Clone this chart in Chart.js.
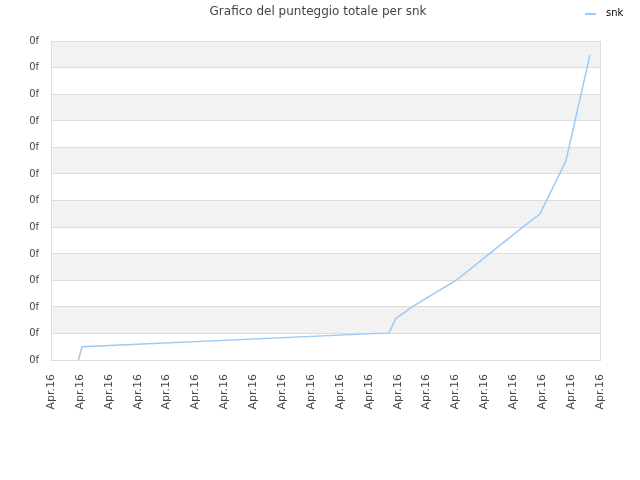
<!DOCTYPE html>
<html>
<head>
<meta charset="utf-8">
<script src="https://cdn.jsdelivr.net/npm/chart.js@4"></script>
<style>
  html, body { margin: 0; padding: 0; background: #fff; }
  #wrap { width: 640px; height: 480px; }
</style>
</head>
<body>
<div id="wrap"><canvas id="chart" width="640" height="480"></canvas></div>
<script>
  'use strict';

  var TITLE = 'Grafico del punteggio totale per snk';
  var SERIES_NAME = 'snk';

  // x tick labels (one per grid step)
  var xLabels = ['Apr.16', 'Apr.16', 'Apr.16', 'Apr.16', 'Apr.16', 'Apr.16', 'Apr.16', 'Apr.16', 'Apr.16', 'Apr.16',
                 'Apr.16', 'Apr.16', 'Apr.16', 'Apr.16', 'Apr.16', 'Apr.16', 'Apr.16', 'Apr.16', 'Apr.16', 'Apr.16'];
  var yLabel = '0f';

  // series (x in tick steps, y in grid steps)
  var xs = [0.95, 1.07, 11.70, 11.94, 12.54, 14.04, 15.19, 16.34, 16.92, 17.82, 18.65];
  var ys = [0,    0.50, 1.02,  1.57,  2.03,  3.01,  4.01,  5.01,  5.49,  7.49,  11.47];

  var LINE = '#9ccaf6';
  var GRID = '#dddddd';
  var BAND = '#f2f2f2';
  var TEXT = '#444444';

  var points = xs.map(function (x, i) { return { x: x, y: ys[i] }; });

  var decor = {
    id: 'decor',
    beforeDraw: function (chart) {
      var ctx = chart.ctx;
      var a = chart.chartArea;
      var y = chart.scales.y;
      ctx.save();
      ctx.fillStyle = BAND;
      for (var v = 11; v >= 0; v -= 2) {
        var top = y.getPixelForValue(v + 1);
        var bot = y.getPixelForValue(v);
        ctx.fillRect(a.left, top, a.right - a.left, bot - top);
      }
      ctx.restore();
    },
    afterDraw: function (chart) {
      var ctx = chart.ctx;
      var a = chart.chartArea;
      ctx.save();
      ctx.strokeStyle = GRID;
      ctx.lineWidth = 1;
      ctx.strokeRect(Math.round(a.left) + 0.5, Math.round(a.top) + 0.5, Math.round(a.right - a.left), Math.round(a.bottom - a.top));

      ctx.fillStyle = TEXT;
      ctx.font = '12px "DejaVu Sans"';
      ctx.textAlign = 'center';
      ctx.textBaseline = 'middle';
      ctx.fillText(TITLE, 318, 12);

      ctx.strokeStyle = LINE;
      ctx.lineWidth = 2;
      ctx.beginPath();
      ctx.moveTo(585, 14);
      ctx.lineTo(596, 14);
      ctx.stroke();
      ctx.fillStyle = '#000';
      ctx.font = '11px "DejaVu Sans Condensed"';
      ctx.textAlign = 'left';
      ctx.fillText(SERIES_NAME, 606, 13);
      ctx.restore();
    }
  };

  new Chart(document.getElementById('chart').getContext('2d'), {
    type: 'line',
    data: {
      datasets: [{
        label: SERIES_NAME,
        data: points,
        borderColor: LINE,
        backgroundColor: LINE,
        borderWidth: 1.5,
        pointRadius: 0,
        tension: 0,
        fill: false
      }]
    },
    options: {
      responsive: false,
      animation: false,
      layout: { padding: { top: 41, right: 40, left: 0, bottom: 0 } },
      plugins: {
        legend: { display: false },
        title: { display: false },
        tooltip: { enabled: false }
      },
      scales: {
        x: {
          type: 'linear',
          min: 0,
          max: xLabels.length - 1,
          grid: { display: false },
          border: { display: true, color: GRID },
          ticks: {
            stepSize: 1,
            autoSkip: false,
            minRotation: 90,
            maxRotation: 90,
            padding: 6,
            color: TEXT,
            font: { family: 'DejaVu Sans', size: 11 },
            callback: function (v) { return xLabels[Math.round(v)]; }
          },
          afterFit: function (s) { s.height = 120; }
        },
        y: {
          min: 0,
          max: 12,
          grid: { color: GRID, drawTicks: false },
          border: { display: true, color: GRID },
          ticks: {
            stepSize: 1,
            padding: 12,
            color: TEXT,
            font: { family: 'DejaVu Sans Condensed', size: 11 },
            callback: function () { return yLabel; }
          },
          afterFit: function (s) { s.width = 51; }
        }
      }
    },
    plugins: [decor]
  });
</script>
</body>
</html>
